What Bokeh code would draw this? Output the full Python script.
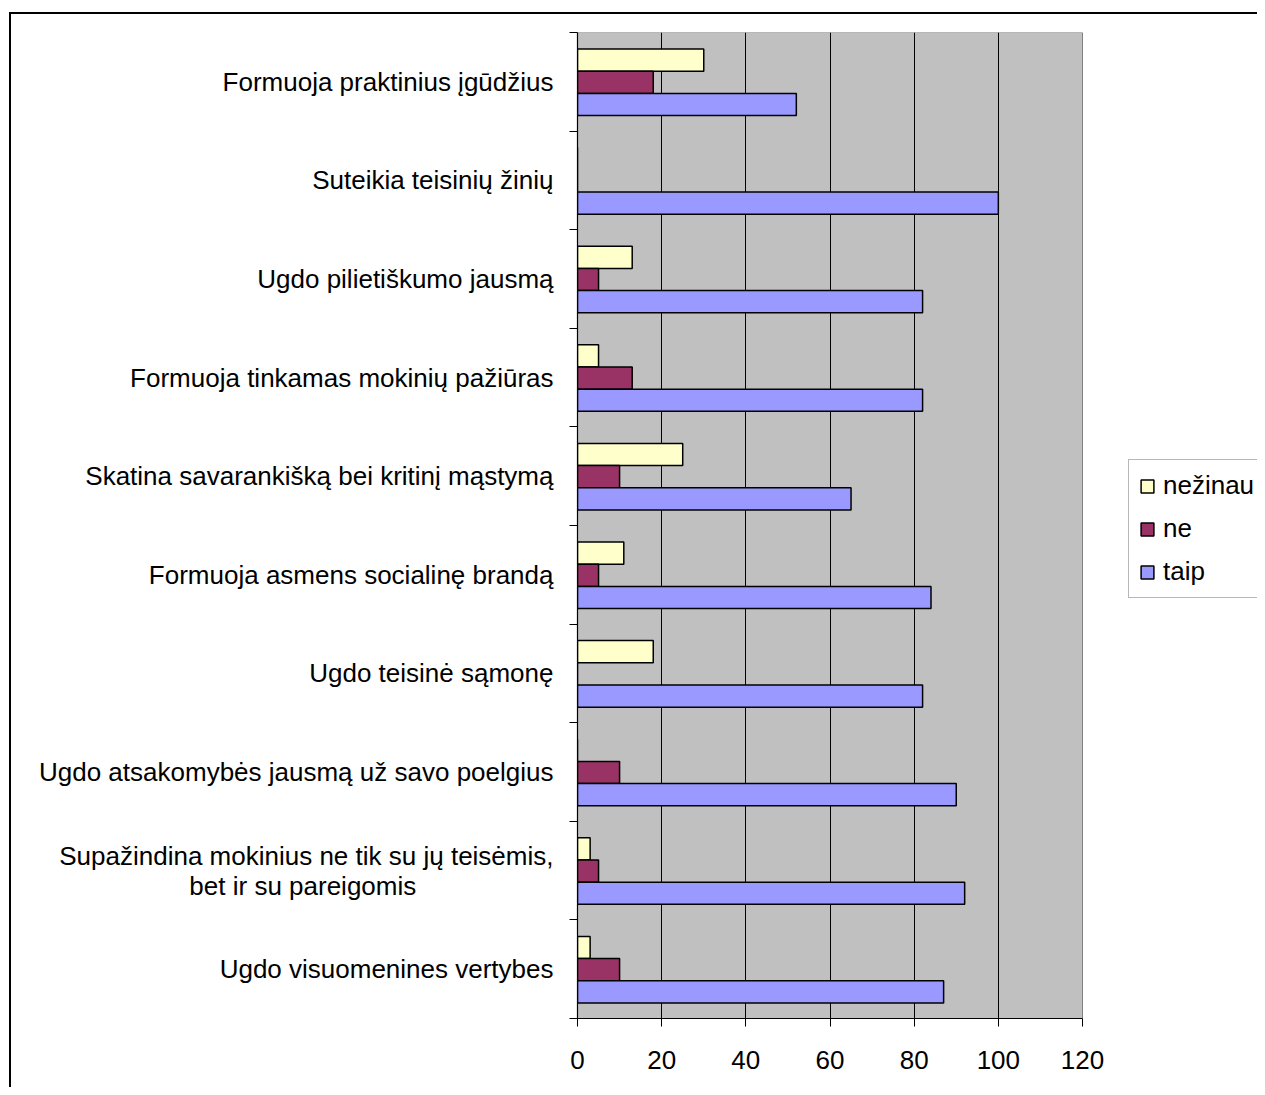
from bokeh.plotting import figure
from bokeh.models import Range1d, FixedTicker, Legend, LegendItem, InlineStyleSheet, BoxAnnotation
from bokeh.embed import file_html
from bokeh.resources import INLINE

NB = "\u00a0"
categories = [
    "Formuoja praktinius įgūdžius",
    "Suteikia teisinių žinių",
    "Ugdo pilietiškumo jausmą",
    "Formuoja tinkamas mokinių pažiūras",
    "Skatina savarankišką bei kritinį mąstymą",
    "Formuoja asmens socialinę brandą",
    "Ugdo teisinė sąmonę",
    "Ugdo atsakomybės jausmą už savo poelgius",
    "Supažindina mokinius ne tik su jų teisėmis,\nbet ir su pareigomis" + NB * 19,
    "Ugdo visuomenines vertybes",
]
nezinau = [30, 0, 13, 5, 25, 11, 18, 0, 3, 3]
ne = [18, 0, 5, 13, 10, 5, 0, 10, 5, 10]
taip = [52, 100, 82, 82, 65, 84, 82, 90, 92, 87]
x_ticks = [0, 20, 40, 60, 80, 100, 120]
x_max = 120
series_names = ["nežinau", "ne", "taip"]
series_colors = ["#FFFFCC", "#993366", "#9999FF"]

FONT = "Liberation Sans"
n = len(categories)
centers = [n - i - 0.5 for i in range(n)]

# layout (pixels)
W, H = 1257, 1087
PLOT_L, PLOT_R, PLOT_T, PLOT_B = 577, 1082, 32, 1018
x_view_end = x_max * (W - PLOT_L) / (PLOT_R - PLOT_L)  # frame extends under legend

border_css = InlineStyleSheet(css="""
:host { position: relative; }
:host::after {
  content: ""; position: absolute; left: 9px; top: 12px; right: 0; bottom: 0;
  border-left: 2px solid black; border-top: 2px solid black;
  pointer-events: none; box-sizing: border-box; z-index: 5;
}
""")

p = figure(width=W, height=H, x_range=Range1d(0, x_view_end), y_range=Range1d(0, n),
           output_backend="svg", toolbar_location=None,
           min_border_left=PLOT_L, min_border_right=0, min_border_top=PLOT_T,
           min_border_bottom=H - PLOT_B, stylesheets=[border_css])
p.background_fill_color = "white"
p.border_fill_color = "white"
p.outline_line_color = None

plot_area = BoxAnnotation(left=0, right=x_max, bottom=0, top=n, level="image",
                          fill_color="#C0C0C0", fill_alpha=1,
                          line_color="#808080", line_width=1, line_alpha=1)
p.add_layout(plot_area)

offsets = [0.225, 0.0, -0.225]
renderers = []
for vals, name, col, off in zip([nezinau, ne, taip], series_names, series_colors, offsets):
    ys = [c - 0.005 + off for c in centers]
    r = p.hbar(y=ys, right=vals, left=0, height=0.225, fill_color=col,
               line_color="black", line_width=1.5)
    renderers.append((name, r))

# x axis
p.xaxis.ticker = FixedTicker(ticks=x_ticks)
p.xaxis.bounds = (0, x_max)
p.xaxis.major_tick_out = 8
p.xaxis.major_tick_in = 0
p.xaxis.minor_tick_out = 0
p.xaxis.major_label_standoff = 24
p.xaxis.major_label_text_font = FONT
p.xaxis.major_label_text_font_size = "26px"
p.xaxis.major_label_text_color = "black"
p.xaxis.axis_line_color = "black"
p.xaxis.axis_line_width = 1.2
p.xaxis.major_tick_line_color = "black"

# y axis: labels at centers, ticks at boundaries
p.yaxis.ticker = FixedTicker(ticks=centers, minor_ticks=list(range(n + 1)))
p.yaxis.major_label_overrides = {c: lab for c, lab in zip(centers, categories)}
p.yaxis.major_tick_out = 0
p.yaxis.major_tick_in = 0
p.yaxis.minor_tick_out = 8
p.yaxis.minor_tick_in = 0
p.yaxis.minor_tick_line_color = "black"
p.yaxis.minor_tick_line_width = 1.2
p.yaxis.major_label_standoff = 16
p.yaxis.major_label_text_font = FONT
p.yaxis.major_label_text_font_size = "26px"
p.yaxis.major_label_text_line_height = 1.0
p.yaxis.major_label_text_color = "black"
p.yaxis.axis_line_color = "black"
p.yaxis.axis_line_width = 1.2

p.xgrid.ticker = FixedTicker(ticks=[20, 40, 60, 80, 100])
p.xgrid.grid_line_color = "black"
p.xgrid.grid_line_width = 1
p.ygrid.grid_line_color = None

legend = Legend(items=[LegendItem(label=nm, renderers=[r]) for nm, r in renderers],
                location=(551, 420), margin=0, padding=10, spacing=12,
                label_height=31, glyph_height=16, glyph_width=16, label_standoff=8,
                label_width=110,
                label_text_font=FONT, label_text_font_size="26px", label_text_color="black",
                border_line_color="#707070", border_line_width=1,
                background_fill_color="white", background_fill_alpha=1)
p.add_layout(legend)

open("out.html", "w").write(file_html(p, INLINE))
